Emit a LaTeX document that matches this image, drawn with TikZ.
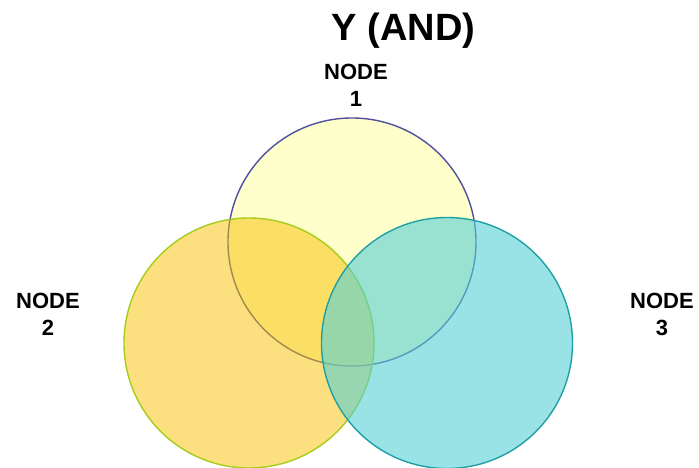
\documentclass[tikz,border=0pt]{standalone}
\usepackage{fontspec}
\setmainfont{Liberation Sans}
\definecolor{topfill}{HTML}{FFFFCC}
\definecolor{topline}{HTML}{5050A0}
\definecolor{leftfill}{RGB}{249,193,0}
\definecolor{leftline}{HTML}{A6CC1C}
\definecolor{rightfill}{RGB}{85,208,213}
\definecolor{rightline}{HTML}{1FA0A6}
\begin{document}
\begin{tikzpicture}[x=1pt,y=-1pt,
  setcircle/.style={circle,inner sep=0pt,minimum size=#1,line width=1.4pt},
  lbl/.style={font=\fontsize{22}{27}\selectfont\bfseries,align=center,inner sep=0pt},
  ttl/.style={font=\fontsize{38}{44}\selectfont\bfseries,inner sep=0pt,anchor=base}]
\useasboundingbox (0,0) rectangle (699,468);
\node[setcircle=248pt,draw=topline,fill=topfill] (c1) at (352,242) {};
\node[setcircle=250pt,draw=leftline,fill=leftfill,fill opacity=0.5] (c2) at (249,343) {};
\node[setcircle=251pt,draw=rightline,fill=rightfill,fill opacity=0.6] (c3) at (447,343) {};
\node[ttl] (title) at (403.5,41) {Y (AND)};
\node[lbl] (n1) at (356,85.5) {NODE\\1};
\node[lbl] (n2) at (48,314) {NODE\\2};
\node[lbl] (n3) at (662,314) {NODE\\3};
\end{tikzpicture}
\end{document}
